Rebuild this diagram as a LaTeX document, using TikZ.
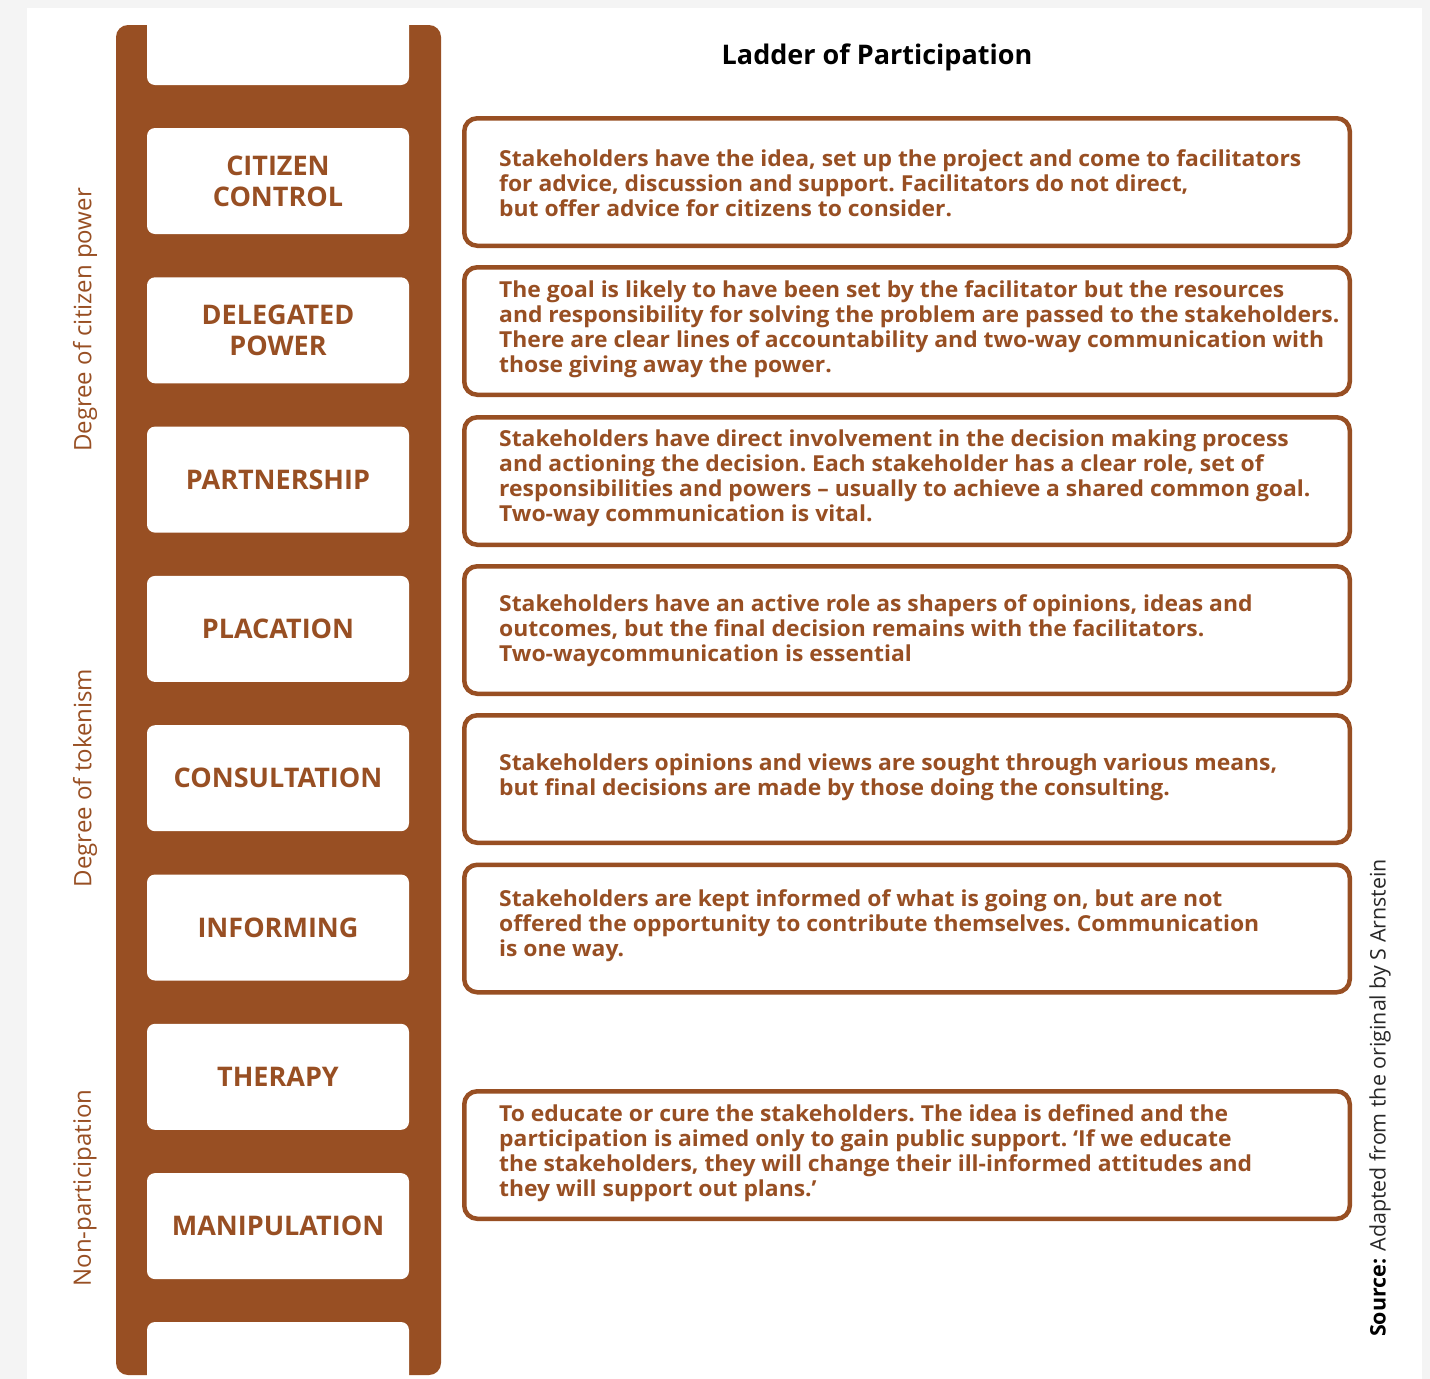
\documentclass[tikz,border=0pt]{standalone}
\usepackage{fontspec}
\setmainfont{Open Sans}
\newfontfamily\descfont[FakeStretch=1.04,Ligatures=TeX]{Open Sans}
\usetikzlibrary{positioning}
\definecolor{ladderbrown}{RGB}{152,79,35}
\definecolor{pagegray}{RGB}{244,244,244}
\definecolor{sourcegray}{RGB}{40,40,40}
\tikzset{
  rungbox/.style={fill=white, rounded corners=8pt, minimum width=262pt,
    minimum height=106pt, inner sep=0pt, align=center, text=ladderbrown,
    font=\fontsize{27}{31}\selectfont\bfseries},
  descbox/.style={draw=ladderbrown, line width=4.5pt, rounded corners=13pt,
    fill=white, minimum width=885.5pt, minimum height=127.5pt, inner sep=0pt},
  desctext/.style={anchor=west, inner sep=0pt, text=ladderbrown, align=left,
    font=\descfont\fontsize{22}{25}\selectfont\bfseries\frenchspacing},
  sidelabel/.style={rotate=90, text=ladderbrown, inner sep=0pt,
    font=\fontsize{24}{28}\selectfont}
}
\begin{document}
\begin{tikzpicture}[x=1pt, y=-1pt]
\useasboundingbox (0,0) rectangle (1430,1379);
% page and white panel
\fill[pagegray] (0,0) rectangle (1430,1379);
\fill[white] (27,8) rectangle (1422,1379);

% ladder frame
\fill[ladderbrown, rounded corners=12pt] (116,25) rectangle (441,1375);
% open gaps at both ends of the ladder
\fill[white, rounded corners=8pt] (147,10) rectangle (409,85);
\fill[white, rounded corners=8pt] (147,1322) rectangle (409,1395);

% rungs
\node[rungbox] (r1) at (278,181)    {CITIZEN\\CONTROL};
\node[rungbox] (r2) at (278,330.3)  {DELEGATED\\POWER};
\node[rungbox] (r3) at (278,479.6)  {PARTNERSHIP};
\node[rungbox] (r4) at (278,628.9)  {PLACATION};
\node[rungbox] (r5) at (278,778.2)  {CONSULTATION};
\node[rungbox] (r6) at (278,927.5)  {INFORMING};
\node[rungbox] (r7) at (278,1076.8) {THERAPY};
\node[rungbox] (r8) at (278,1226.1) {MANIPULATION};

% title
\node[font=\fontsize{27}{32}\selectfont\bfseries, text=black] (title) at (877,57) {Ladder of Participation};

% description boxes
\node[descbox] (d1) at (907,182)    {};
\node[descbox] (d2) at (907,331)    {};
\node[descbox] (d3) at (907,481)    {};
\node[descbox] (d4) at (907,630)    {};
\node[descbox] (d5) at (907,779)    {};
\node[descbox] (d6) at (907,928.5)  {};
\node[descbox] (d7) at (907,1155)   {};

\node[desctext] (t1) at (499,183) {Stakeholders have the idea, set up the project and come to facilitators\\for advice, discussion and support. Facilitators do not direct,\\but offer advice for citizens to consider.};
\node[desctext] (t2) at (499,329.5) {The goal is likely to have been set by the facilitator but the resources\\and responsibility for solving the problem are passed to the stakeholders.\\There are clear lines of accountability and two-way communication with\\those giving away the power.};
\node[desctext] (t3) at (499,478.5) {Stakeholders have direct involvement in the decision making process\\and actioning the decision. Each stakeholder has a clear role, set of\\responsibilities and powers – usually to achieve a shared common goal.\\Two-way communication is vital.};
\node[desctext] (t4) at (499,631) {Stakeholders have an active role as shapers of opinions, ideas and\\outcomes, but the final decision remains with the facilitators.\\Two-waycommunication is essential};
\node[desctext] (t5) at (499,777.5) {Stakeholders opinions and views are sought through various means,\\but final decisions are made by those doing the consulting.};
\node[desctext] (t6) at (499,926) {Stakeholders are kept informed of what is going on, but are not\\offered the opportunity to contribute themselves. Communication\\is one way.};
\node[desctext] (t7) at (499,1153.5) {To educate or cure the stakeholders. The idea is defined and the\\participation is aimed only to gain public support. ‘If we educate\\the stakeholders, they will change their ill-informed attitudes and\\they will support out plans.’};

% side labels
\node[sidelabel] (s1) at (85,320)  {Degree of citizen power};
\node[sidelabel] (s2) at (85,778)  {Degree of tokenism};
\node[sidelabel] (s3) at (85,1188) {Non-participation};

% source
\node[rotate=90, inner sep=0pt, text=sourcegray, font=\fontsize{21.4}{25}\selectfont] (src) at (1380,1098)
  {{\bfseries\color{black}Source:} Adapted from the original by S Arnstein};
\end{tikzpicture}
\end{document}
